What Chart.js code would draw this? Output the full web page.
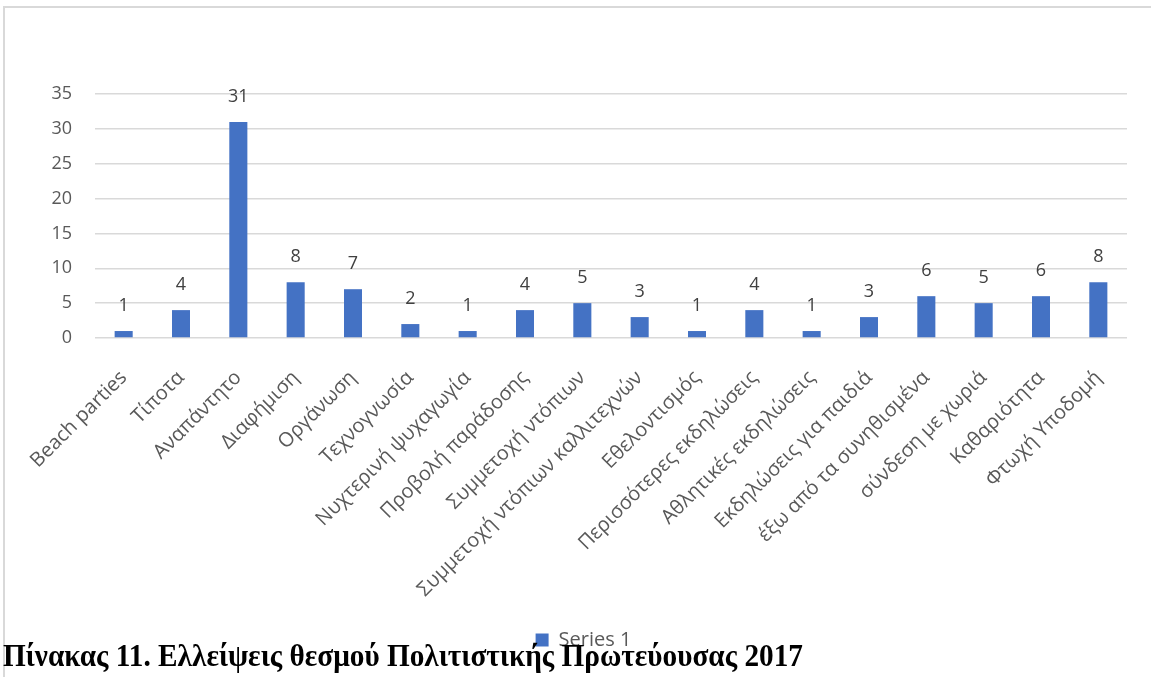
<!DOCTYPE html>
<html>
<head>
<meta charset="utf-8">
<title>Πίνακας 11</title>
<script src="https://cdn.jsdelivr.net/npm/chart.js"></script>
<style>
html, body { margin: 0; padding: 0; background: #fff; }
body { width: 1151px; height: 677px; position: relative; overflow: hidden; }
.frame { position: absolute; left: 3px; top: 6px; width: 1200px; height: 700px; border-left: 2px solid #d9d9d9; border-top: 2px solid #d9d9d9; }
.chart-box { position: absolute; left: 0; top: 0; width: 1151px; height: 677px; }
#caption { position: absolute; left: 3px; top: 639px; font-family: "Liberation Serif", serif; font-weight: bold; font-size: 32px; color: #000; white-space: nowrap; transform-origin: 0 0; line-height: 1; }
</style>
</head>
<body>
<div class="frame"></div>
<div class="chart-box"><canvas id="chart" width="1151" height="677"></canvas></div>
<div id="caption">Πίνακας 11. Ελλείψεις θεσμού Πολιτιστικής Πρωτεύουσας 2017</div>
<script>
const categories = [
  'Beach parties', 'Τίποτα', 'Αναπάντητο', 'Διαφήμιση', 'Οργάνωση', 'Τεχνογνωσία',
  'Νυχτερινή ψυχαγωγία', 'Προβολή παράδοσης', 'Συμμετοχή ντόπιων',
  'Συμμετοχή ντόπιων καλλιτεχνών', 'Εθελοντισμός', 'Περισσότερες εκδηλώσεις',
  'Αθλητικές εκδηλώσεις', 'Εκδηλώσεις για παιδιά', 'έξω από τα συνηθισμένα',
  'σύνδεση με χωριά', 'Καθαριότητα', 'Φτωχή Υποδομή'
];
const series1 = [1, 4, 31, 8, 7, 2, 1, 4, 5, 3, 1, 4, 1, 3, 6, 5, 6, 8];
const yTicks = [0, 5, 10, 15, 20, 25, 30, 35];

// value labels above the bars
const valueLabels = {
  id: 'valueLabels',
  afterLayout(chart) {
    // legend sits a little right of centre in the original
    chart.legend.left += 20;
    chart.legend.right += 20;
  },
  afterDatasetsDraw(chart) {
    const ctx = chart.ctx;
    ctx.save();
    ctx.font = '18px "Open Sans"';
    ctx.fillStyle = '#404040';
    ctx.textAlign = 'center';
    ctx.textBaseline = 'bottom';
    chart.getDatasetMeta(0).data.forEach((bar, i) => {
      ctx.fillText(String(series1[i]), bar.x, bar.y - 16);
    });
    ctx.restore();
  }
};

new Chart(document.getElementById('chart'), {
  type: 'bar',
  data: {
    labels: categories,
    datasets: [{
      label: 'Series 1',
      data: series1,
      backgroundColor: '#4472C4',
      borderWidth: 0,
      barPercentage: 0.63,
      categoryPercentage: 0.5
    }]
  },
  options: {
    responsive: false,
    animation: false,
    layout: { padding: { top: 94, right: 24, bottom: 17, left: 0 } },
    scales: {
      x: {
        grid: { display: false },
        border: { display: false },
        ticks: {
          minRotation: 45,
          maxRotation: 45,
          autoSkip: false,
          padding: 20,
          color: '#595959',
          font: { family: 'Open Sans', size: 20 }
        },
        afterFit(scale) { scale.height = 282; }
      },
      y: {
        min: 0,
        max: 35,
        afterBuildTicks(scale) { scale.ticks = yTicks.map(v => ({ value: v })); },
        grid: { color: '#d9d9d9', lineWidth: 1.5, drawTicks: false },
        border: { display: false },
        ticks: {
          padding: 23,
          color: '#595959',
          font: { family: 'Open Sans', size: 18 }
        },
        afterFit(scale) { scale.width = 95; }
      }
    },
    plugins: {
      legend: {
        position: 'bottom',
        labels: {
          boxWidth: 13,
          boxHeight: 13,
          color: '#595959',
          font: { family: 'Open Sans', size: 20 }
        }
      },
      tooltip: { enabled: false }
    }
  },
  plugins: [valueLabels]
});

// fit the caption to the width it has in the reference
const cap = document.getElementById('caption');
cap.style.transform = 'scaleX(' + (800 / cap.scrollWidth) + ')';
</script>
</body>
</html>
